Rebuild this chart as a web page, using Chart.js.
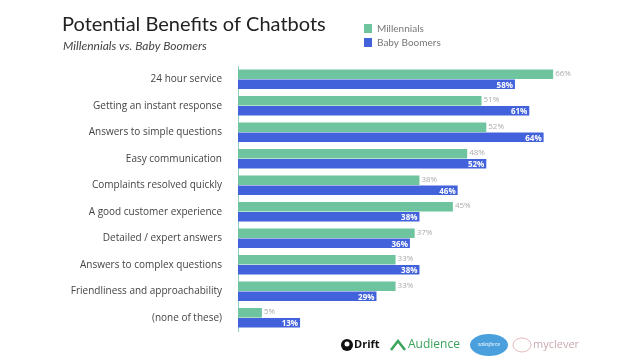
<!DOCTYPE html>
<html>
<head>
<meta charset="utf-8">
<script src="https://cdn.jsdelivr.net/npm/chart.js@4/dist/chart.umd.min.js"></script>
<style>
  body { margin: 0; background: #fff; }
  #wrap { position: relative; width: 638px; height: 359px; }
</style>
</head>
<body>
<div id="wrap"><canvas id="benefitsChart" width="638" height="359"></canvas></div>
<script>
const categories = [
    "24 hour service",
    "Getting an instant response",
    "Answers to simple questions",
    "Easy communication",
    "Complaints resolved quickly",
    "A good customer experience",
    "Detailed / expert answers",
    "Answers to complex questions",
    "Friendliness and approachability",
    "(none of these)"
];
const millennials = [66, 51, 52, 48, 38, 45, 37, 33, 33, 5];
const babyBoomers = [58, 61, 64, 52, 46, 38, 36, 38, 29, 13];
const seriesNames = ["Millennials", "Baby Boomers"];

const GREEN = "#6dc49f";
const BLUE = "#4262dc";
const FONT = "'Open Sans', sans-serif";
const HEAD_FONT = "Lato, sans-serif";

// title, legend, value labels and footer logos
const decorations = {
    id: "decorations",
    afterDraw(chart) {
        const ctx = chart.ctx;
        ctx.save();

        ctx.fillStyle = "#222";
        ctx.font = "20px " + HEAD_FONT;
        ctx.textBaseline = "alphabetic";
        ctx.textAlign = "left";
        ctx.fillText("Potential Benefits of Chatbots", 62, 31);

        ctx.fillStyle = "#444";
        ctx.font = "italic 12px " + HEAD_FONT;
        ctx.fillText("Millennials vs. Baby Boomers", 63, 50);

        // legend
        const colors = [GREEN, BLUE];
        seriesNames.forEach((name, i) => {
            const y = 28 + i * 14;
            ctx.fillStyle = colors[i];
            ctx.fillRect(364, y - 4, 8, 9);
            ctx.fillStyle = "#777";
            ctx.font = "10px " + HEAD_FONT;
            ctx.textBaseline = "middle";
            ctx.fillText(name, 377, y + 1);
        });

        // value labels
        chart.data.datasets.forEach((ds, di) => {
            const meta = chart.getDatasetMeta(di);
            meta.data.forEach((bar, i) => {
                const v = ds.data[i] + "%";
                ctx.textBaseline = "middle";
                if (di === 0) {
                    ctx.fillStyle = "#aaa";
                    ctx.font = "8px " + FONT;
                    ctx.textAlign = "left";
                    ctx.fillText(v, bar.x + 2, bar.y - 1);
                } else {
                    ctx.fillStyle = "#fff";
                    ctx.font = "bold 8px " + FONT;
                    ctx.textAlign = "right";
                    ctx.fillText(v, bar.x - 2, bar.y + 1);
                }
            });
        });

        // footer logos (rough)
        ctx.textAlign = "left";
        ctx.textBaseline = "middle";
        ctx.fillStyle = "#111";
        ctx.beginPath();
        ctx.arc(347, 345, 6, 0, Math.PI * 2);
        ctx.fill();
        ctx.fillStyle = "#fff";
        ctx.beginPath();
        ctx.arc(347, 344, 2.5, 0, Math.PI * 2);
        ctx.fill();
        ctx.fillStyle = "#111";
        ctx.font = "bold 11px " + FONT;
        ctx.fillText("Drift", 354, 345);

        ctx.strokeStyle = "#3aa35a";
        ctx.lineWidth = 2.5;
        ctx.beginPath();
        ctx.moveTo(391, 350);
        ctx.lineTo(398, 341);
        ctx.lineTo(405, 350);
        ctx.stroke();
        ctx.fillStyle = "#3aa35a";
        ctx.font = "12px " + FONT;
        ctx.fillText("Audience", 408, 345);

        ctx.fillStyle = "#4aa0dd";
        ctx.beginPath();
        ctx.ellipse(489, 345, 19, 11, 0, 0, Math.PI * 2);
        ctx.fill();
        ctx.fillStyle = "#fff";
        ctx.font = "italic 5px " + FONT;
        ctx.textAlign = "center";
        ctx.fillText("salesforce", 489, 345);

        ctx.strokeStyle = "#e4b8bc";
        ctx.lineWidth = 1;
        ctx.beginPath();
        ctx.ellipse(522, 345, 9, 7, 0, 0, Math.PI * 2);
        ctx.stroke();
        ctx.fillStyle = "#c9a9ad";
        ctx.font = "11px " + FONT;
        ctx.textAlign = "left";
        ctx.fillText("myclever", 533, 345);

        ctx.restore();
    }
};

new Chart(document.getElementById("benefitsChart"), {
    type: "bar",
    data: {
        labels: categories,
        datasets: [
            { label: seriesNames[0], data: millennials, backgroundColor: GREEN },
            { label: seriesNames[1], data: babyBoomers, backgroundColor: BLUE }
        ]
    },
    options: {
        indexAxis: "y",
        responsive: false,
        animation: false,
        datasets: { bar: { categoryPercentage: 0.75, barPercentage: 0.96 } },
        layout: { padding: { top: 66, bottom: 28, left: 0, right: 18 } },
        plugins: { legend: { display: false }, tooltip: { enabled: false } },
        scales: {
            x: { display: false, min: 0, max: 80 },
            y: {
                afterFit(scale) { scale.width = 238; },
                grid: { display: false },
                border: { display: true, color: "#8fd0c0", width: 1 },
                ticks: { color: "#444", font: { family: FONT, size: 10 }, padding: 8 }
            }
        }
    },
    plugins: [decorations]
});
</script>
</body>
</html>
